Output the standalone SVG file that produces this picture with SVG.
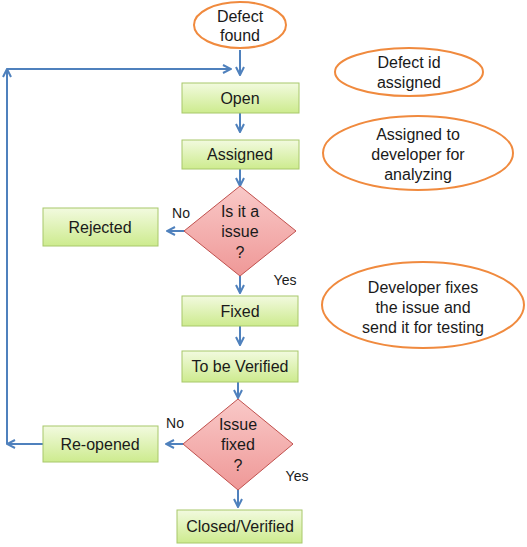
<svg xmlns="http://www.w3.org/2000/svg" width="527" height="547" viewBox="0 0 527 547">
<defs>
<linearGradient id="gGreen" x1="0" y1="0" x2="0" y2="1">
<stop offset="0" stop-color="#f2fadf"/>
<stop offset="1" stop-color="#cdeb8e"/>
</linearGradient>
<linearGradient id="gRed" x1="0" y1="0" x2="0" y2="1">
<stop offset="0" stop-color="#f9c9c8"/>
<stop offset="1" stop-color="#ef9897"/>
</linearGradient>
<marker id="arr" viewBox="0 0 10 10" refX="9" refY="5" markerWidth="5" markerHeight="5" orient="auto" markerUnits="strokeWidth">
<path d="M1,1 L9,5 L1,9" fill="none" stroke="#4f81bd" stroke-width="2"/>
</marker>
</defs>
<style>
text{font-family:"Liberation Sans",Arial,sans-serif;font-size:16px;fill:#1a1a1a;text-anchor:middle}
.box{fill:url(#gGreen);stroke:#a8c86a;stroke-width:1}
.dia{fill:url(#gRed);stroke:#c0504d;stroke-width:1}
.ell{fill:#ffffff;stroke:#f08a3e;stroke-width:2}
.con{fill:none;stroke:#4f81bd;stroke-width:2;marker-end:url(#arr)}
.lbl{font-size:14px}
</style>
<rect width="527" height="547" fill="#ffffff"/>
<g id="connectors">
<line class="con" x1="240" y1="50" x2="240" y2="75"/>
<line class="con" x1="240" y1="113" x2="240" y2="132"/>
<line class="con" x1="240" y1="169" x2="240" y2="186"/>
<line class="con" x1="185" y1="231" x2="167" y2="231"/>
<line class="con" x1="240" y1="276" x2="240" y2="293"/>
<line class="con" x1="240" y1="326" x2="240" y2="345"/>
<line class="con" x1="238" y1="382" x2="238" y2="398"/>
<line class="con" x1="183" y1="444" x2="166" y2="444"/>
<line class="con" x1="238" y1="490" x2="238" y2="507"/>
<line class="con" x1="43" y1="444" x2="7" y2="444"/>
<line class="con" x1="7" y1="444" x2="7" y2="69"/>
<line class="con" x1="7" y1="69" x2="231" y2="69"/>
<text class="lbl" x="181" y="218">No</text>
<text class="lbl" x="285" y="285">Yes</text>
<text class="lbl" x="175" y="428">No</text>
<text class="lbl" x="297" y="481">Yes</text>
</g>
<g id="defect-found">
<ellipse class="ell" cx="240" cy="25" rx="46" ry="23"/>
<text x="240" y="22">Defect</text>
<text x="240" y="41">found</text>
</g>
<g id="open">
<rect class="box" x="182" y="83" width="117" height="30"/>
<text x="240" y="104">Open</text>
</g>
<g id="assigned">
<rect class="box" x="182" y="140" width="117" height="29"/>
<text x="240" y="160">Assigned</text>
</g>
<g id="is-issue">
<polygon class="dia" points="240,186 296,231 240,276 184,231"/>
<text x="240" y="217">Is it a</text>
<text x="240" y="237">issue</text>
<text x="240" y="258">?</text>
</g>
<g id="rejected">
<rect class="box" x="43" y="208" width="115" height="38"/>
<text x="100" y="233">Rejected</text>
</g>
<g id="fixed">
<rect class="box" x="182" y="296" width="116" height="30"/>
<text x="240" y="317">Fixed</text>
</g>
<g id="to-be-verified">
<rect class="box" x="182" y="351" width="116" height="31"/>
<text x="240" y="372">To be Verified</text>
</g>
<g id="issue-fixed">
<polygon class="dia" points="238,399 293,444 238,490 183,444"/>
<text x="238" y="430">Issue</text>
<text x="238" y="450">fixed</text>
<text x="238" y="471">?</text>
</g>
<g id="re-opened">
<rect class="box" x="43" y="426" width="115" height="36"/>
<text x="100" y="450">Re-opened</text>
</g>
<g id="closed-verified">
<rect class="box" x="177" y="510" width="125" height="33"/>
<text x="240" y="532">Closed/Verified</text>
</g>
<g id="note-defect-id">
<ellipse class="ell" cx="409" cy="72" rx="74" ry="24"/>
<text x="409" y="68">Defect id</text>
<text x="409" y="88">assigned</text>
</g>
<g id="note-assigned">
<ellipse class="ell" cx="418" cy="153" rx="95" ry="37"/>
<text x="418" y="140">Assigned to</text>
<text x="418" y="160">developer for</text>
<text x="418" y="180">analyzing</text>
</g>
<g id="note-fixes">
<ellipse class="ell" cx="423" cy="305" rx="101" ry="43"/>
<text x="423" y="293">Developer fixes</text>
<text x="423" y="313">the issue and</text>
<text x="423" y="333">send it for testing</text>
</g>
</svg>
